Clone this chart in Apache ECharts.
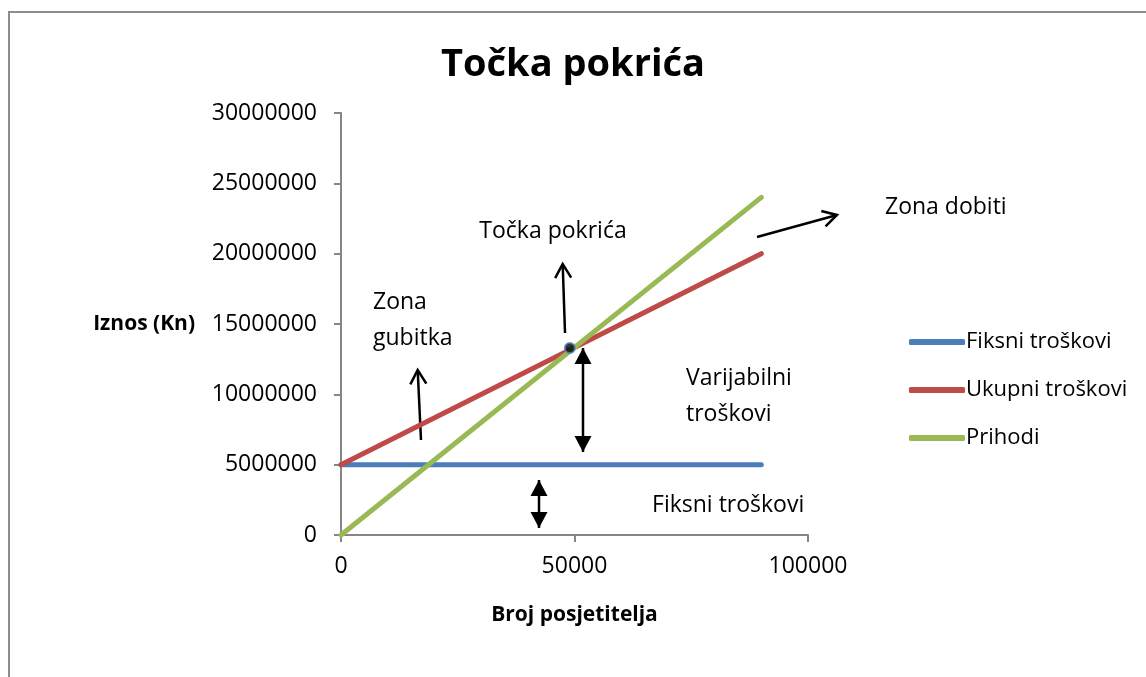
<!DOCTYPE html>
<html>
<head>
<meta charset="utf-8">
<title>Točka pokrića</title>
<script src="https://cdn.jsdelivr.net/npm/echarts@6/dist/echarts.min.js"></script>
<style>
    html, body { margin: 0; padding: 0; background: #fff; }
    #chart { width: 1146px; height: 677px; }
</style>
</head>
<body>
<div id="chart"></div>
<script>
// chart data
var posjetitelji = [0, 90000];
var fiksniTroskovi = [5000000, 5000000];
var ukupniTroskovi = [5000000, 20000000];
var prihodi = [0, 24000000];
var tockaPokrica = [49000, 13300000];

// annotation arrows in data units: [from, to]
var strelice = [
    { from: [17130, 6750000], to: [16420, 11730000], type: 'open' },
    { from: [47970, 14360000], to: [47470, 19270000], type: 'open' },
    { from: [89080, 21190000], to: [106200, 22750000], type: 'open' },
    { from: [51820, 5900000], to: [51820, 13290000], type: 'double' },
    { from: [42400, 500000], to: [42400, 3910000], type: 'double' }
];
var natpisi = [
    { text: 'Točka pokrića', at: [45400, 21610000], align: 'center' },
    { text: 'Zona dobiti', at: [116490, 23320000], align: 'left' },
    { text: 'Zona\ngubitka', at: [6850, 15280000], align: 'left' },
    { text: 'Varijabilni\ntroškovi', at: [73880, 9880000], align: 'left' },
    { text: 'Fiksni troškovi', at: [66600, 2130000], align: 'left' }
];

var font = 'Open Sans';
var boje = ['#4a7ebb', '#be4b48', '#98b954'];

function pairs(xs, ys) {
    return xs.map(function (x, i) { return [x, ys[i]]; });
}

var chart = echarts.init(document.getElementById('chart'));
chart.setOption({
    backgroundColor: '#ffffff',
    animation: false,
    color: boje,
    title: {
        text: 'Točka pokrića',
        left: 'center',
        top: 41,
        textStyle: { fontFamily: font, fontSize: 38, fontWeight: 'bold', color: '#000' }
    },
    grid: { left: 341, right: 338, top: 113, bottom: 142 },
    legend: {
        orient: 'vertical',
        left: 904,
        top: 326,
        icon: 'roundRect',
        itemWidth: 56,
        itemHeight: 6,
        itemGap: 26,
        textStyle: { fontFamily: font, fontSize: 22, color: '#000', padding: [0, 0, 0, -4] },
        data: ['Fiksni troškovi', 'Ukupni troškovi', 'Prihodi']
    },
    xAxis: {
        type: 'value',
        min: 0,
        max: 100000,
        interval: 50000,
        name: 'Broj posjetitelja',
        nameLocation: 'middle',
        nameGap: 70,
        nameTextStyle: { fontFamily: font, fontSize: 21, fontWeight: 'bold', color: '#000' },
        splitLine: { show: false },
        axisLine: { lineStyle: { color: '#868686', width: 2 } },
        axisTick: { lineStyle: { color: '#868686', width: 2 }, length: 7 },
        axisLabel: { fontFamily: font, fontSize: 23, color: '#000', margin: 20, formatter: function (v) { return String(v); } }
    },
    yAxis: {
        type: 'value',
        min: 0,
        max: 30000000,
        interval: 5000000,
        name: 'Iznos (Kn)',
        nameLocation: 'middle',
        nameRotate: 0,
        nameGap: 146,
        nameTextStyle: { fontFamily: font, fontSize: 21, fontWeight: 'bold', color: '#000', align: 'right' },
        splitLine: { show: false },
        axisLine: { show: true, lineStyle: { color: '#868686', width: 2 } },
        axisTick: { show: true, lineStyle: { color: '#868686', width: 2 }, length: 7 },
        axisLabel: { fontFamily: font, fontSize: 23, color: '#000', margin: 24, formatter: function (v) { return String(v); } }
    },
    series: [
        {
            name: 'Fiksni troškovi', type: 'line', showSymbol: false,
            data: pairs(posjetitelji, fiksniTroskovi),
            lineStyle: { width: 5, cap: 'round' }
        },
        {
            name: 'Ukupni troškovi', type: 'line', showSymbol: false,
            data: pairs(posjetitelji, ukupniTroskovi),
            lineStyle: { width: 5, cap: 'round' }
        },
        {
            name: 'Prihodi', type: 'line', showSymbol: false,
            data: pairs(posjetitelji, prihodi),
            lineStyle: { width: 5, cap: 'round' }
        },
        {
            name: 'tocka', type: 'scatter', symbolSize: 10, z: 5,
            data: [tockaPokrica],
            itemStyle: { color: '#000', borderColor: '#4a7ebb', borderWidth: 2 }
        }
    ]
});

// arrows and notes
function px(p) { return chart.convertToPixel({ gridIndex: 0 }, p); }

function glava(baza, vrh, filled) {
    var dx = vrh[0] - baza[0], dy = vrh[1] - baza[1];
    var len = Math.sqrt(dx * dx + dy * dy);
    var ux = dx / len, uy = dy / len;
    var L = filled ? 16 : 14, W = filled ? 8.5 : 8;
    var bx = vrh[0] - ux * L, by = vrh[1] - uy * L;
    var a = [bx - uy * W, by + ux * W], b = [bx + uy * W, by - ux * W];
    if (filled) {
        return { type: 'polygon', shape: { points: [a, vrh, b] }, style: { fill: '#000' } };
    }
    return { type: 'polyline', shape: { points: [a, vrh, b] }, style: { stroke: '#000', lineWidth: 2.5, fill: null } };
}

var elementi = [{
    type: 'rect', shape: { x: 9, y: 12, width: 1160, height: 700 },
    style: { fill: null, stroke: '#8c8c8c', lineWidth: 2 }, z: 0
}];

strelice.forEach(function (s) {
    var p1 = px(s.from), p2 = px(s.to);
    elementi.push({ type: 'line', shape: { x1: p1[0], y1: p1[1], x2: p2[0], y2: p2[1] }, style: { stroke: '#000', lineWidth: 2.5 } });
    if (s.type === 'open') {
        elementi.push(glava(p1, p2, false));
    } else {
        elementi.push(glava(p1, p2, true));
        elementi.push(glava(p2, p1, true));
    }
});

natpisi.forEach(function (n) {
    var p = px(n.at);
    elementi.push({
        type: 'text', x: p[0], y: p[1],
        style: { text: n.text, fill: '#000', font: '23px "' + font + '"', align: n.align, verticalAlign: 'middle', lineHeight: 36 }
    });
});

chart.setOption({ graphic: elementi });
</script>
</body>
</html>
